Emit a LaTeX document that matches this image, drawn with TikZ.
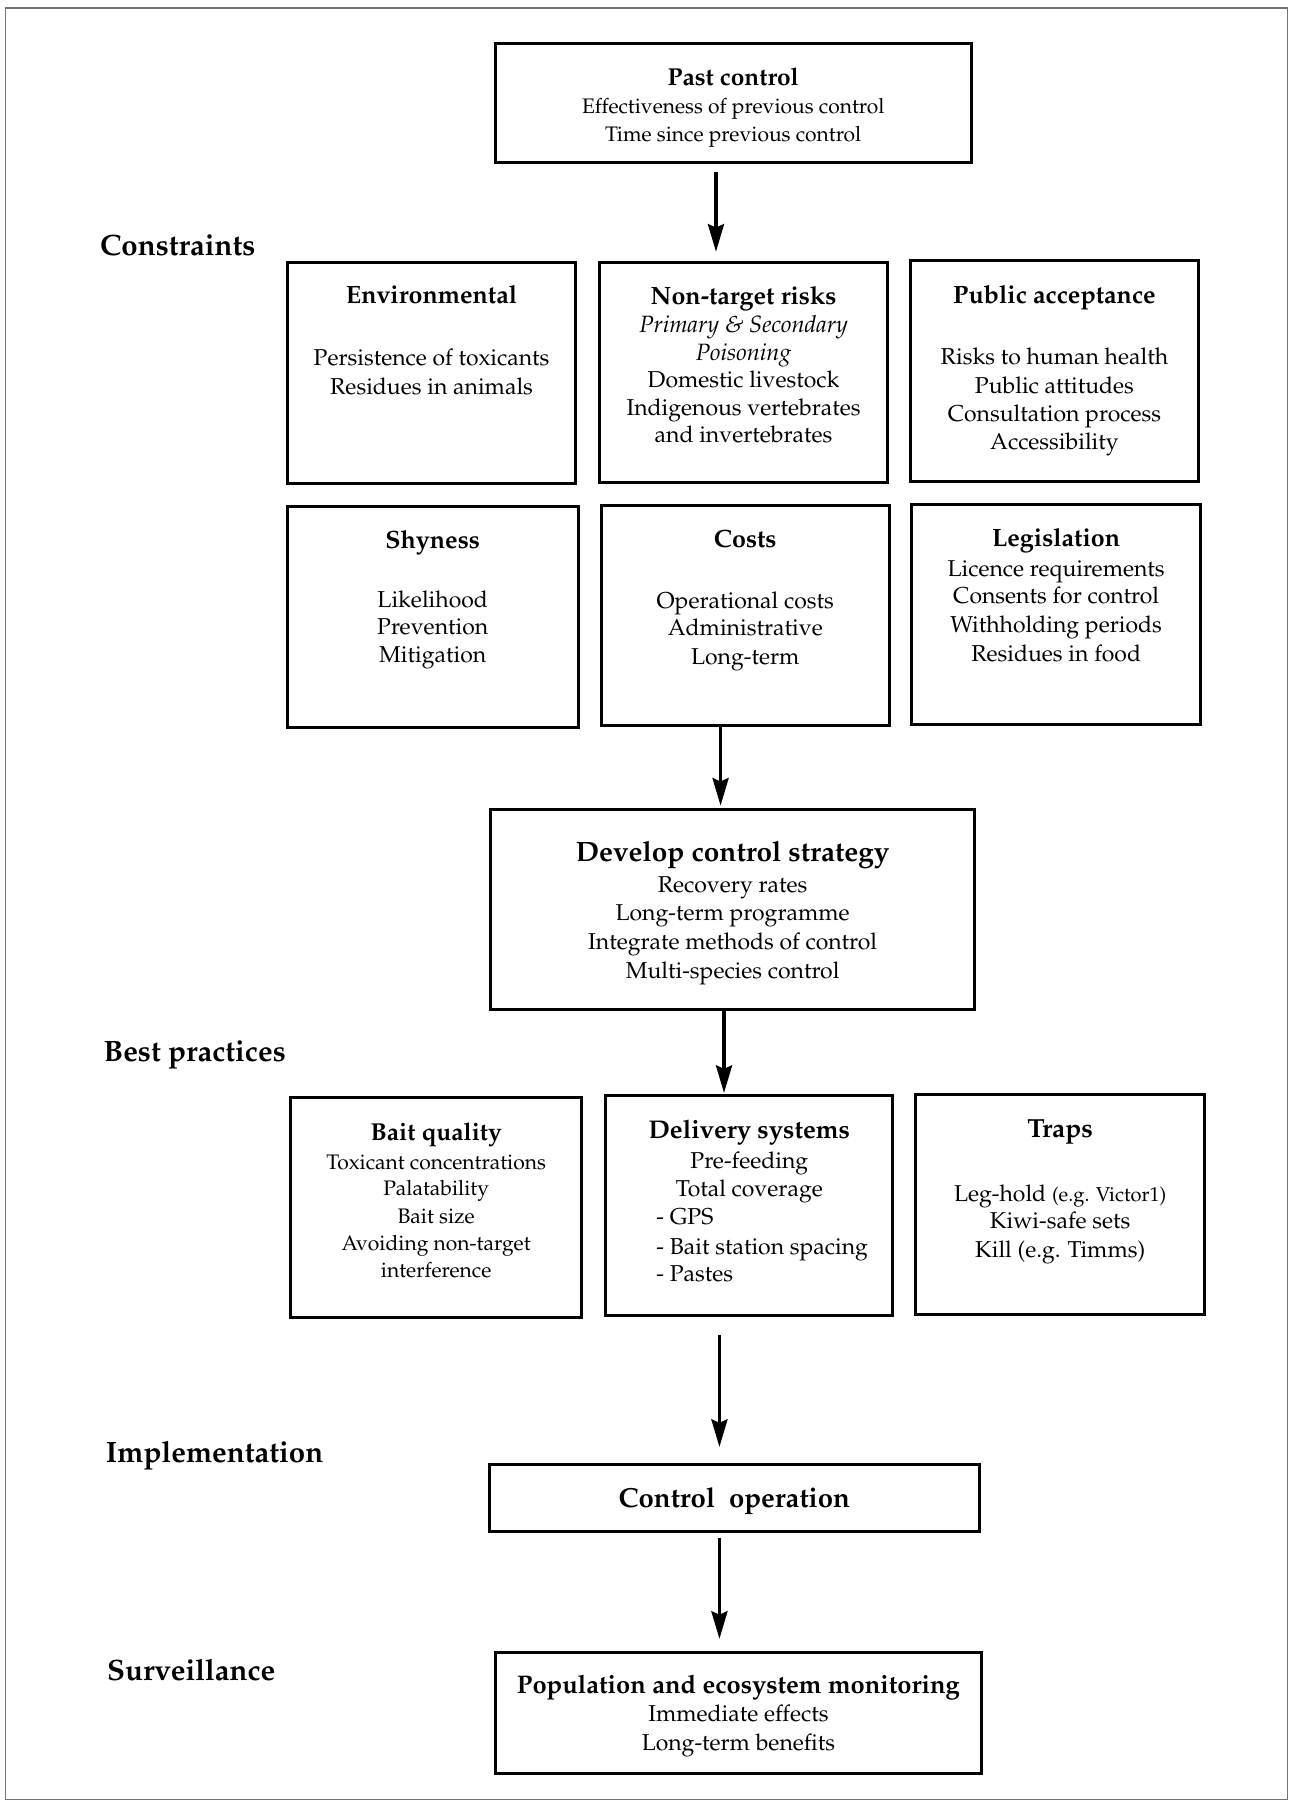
\documentclass[tikz,border=0pt]{standalone}
\usepackage[T1]{fontenc}
\usepackage{mathpazo}
\usetikzlibrary{arrows.meta}
\tikzset{
  box/.style={draw=black, line width=2.6pt, inner sep=0pt, fill=none},
  txt/.style={anchor=mid, inner sep=0pt, font=\fontsize{20}{24}\selectfont},
  txs/.style={anchor=mid, inner sep=0pt, font=\fontsize{18.3}{22}\selectfont},
  ttl/.style={anchor=mid, inner sep=0pt, font=\fontsize{21.8}{26}\selectfont\bfseries},
  tts/.style={anchor=mid, inner sep=0pt, font=\fontsize{21.3}{25}\selectfont\bfseries},
  lbl/.style={anchor=mid west, inner sep=0pt, font=\fontsize{25.6}{30}\selectfont\bfseries},
  arr/.style={line width=2.8pt, -{Stealth[length=24pt,width=14pt,inset=3pt]}},
}
\newcommand\tline[5][txt]{\node[#1] (#2) at (#3,#4) {#5};}
\begin{document}
\begin{tikzpicture}[x=1pt,y=-1pt]
\useasboundingbox (0,0) rectangle (1123,1568);
\node[draw=black!55, line width=1pt, inner sep=0pt, minimum width=1115pt, minimum height=1559pt] (frame) at (562.5,786.5) {};

% boxes
\node[box, minimum width=414pt, minimum height=103pt] (past) at (638,89.5) {};
\node[box, minimum width=251pt, minimum height=193pt] (env) at (375.5,324.5) {};
\node[box, minimum width=250pt, minimum height=192pt] (ntr) at (647,324) {};
\node[box, minimum width=251pt, minimum height=192pt] (pub) at (917.5,323) {};
\node[box, minimum width=253pt, minimum height=192pt] (shy) at (376.5,537) {};
\node[box, minimum width=251pt, minimum height=191pt] (cost) at (648.5,535.5) {};
\node[box, minimum width=252pt, minimum height=191pt] (leg) at (919,534.5) {};
\node[box, minimum width=421pt, minimum height=174pt] (dev) at (637.5,791) {};
\node[box, minimum width=253pt, minimum height=191pt] (bait) at (379.5,1050.5) {};
\node[box, minimum width=250pt, minimum height=192pt] (del) at (652,1049) {};
\node[box, minimum width=251pt, minimum height=192pt] (trap) at (922.5,1048) {};
\node[box, minimum width=426pt, minimum height=59pt] (ctrl) at (639,1303.5) {};
\node[box, minimum width=423pt, minimum height=105pt] (pop) at (642.5,1490.5) {};

% section labels
\tline[lbl]{lcon}{87}{220}{Constraints}
\tline[lbl]{lbest}{90}{921}{Best practices}
\tline[lbl]{limp}{92}{1270}{Implementation}
\tline[lbl]{lsur}{93}{1460}{Surveillance}

% past control
\tline[tts]{t1}{638}{72}{Past control}
\tline[txs]{t2}{638}{96.5}{Effectiveness of previous control}
\tline[txs]{t3}{638}{120.5}{Time since previous control}

% environmental
\tline[ttl]{e1}{375.5}{262}{Environmental}
\tline{e2}{375.5}{316}{Persistence of toxicants}
\tline{e3}{375.5}{341}{Residues in animals}

% non-target
\tline[ttl]{n1}{647}{263}{Non-target risks}
\tline{n2}{647}{287}{\itshape\fontsize{20.5}{24}\selectfont Primary \& Secondary}
\tline{n3}{647}{311}{\itshape\fontsize{20.5}{24}\selectfont Poisoning}
\tline{n4}{647}{335}{Domestic livestock}
\tline{n5}{647}{359}{Indigenous vertebrates}
\tline{n6}{647}{383}{and invertebrates}

% public acceptance
\tline[ttl]{p1}{917.5}{262}{Public acceptance}
\tline{p2}{917.5}{315}{Risks to human health}
\tline{p3}{917.5}{340}{Public attitudes}
\tline{p4}{917.5}{364}{Consultation process}
\tline{p5}{917.5}{389}{Accessibility}

% shyness
\tline[ttl]{s1}{376.5}{475}{Shyness}
\tline{s2}{376.5}{526}{Likelihood}
\tline{s3}{376.5}{550}{Prevention}
\tline{s4}{376.5}{574}{Mitigation}

% costs
\tline[ttl]{c1}{648.5}{474}{Costs}
\tline{c2}{648.5}{527}{Operational costs}
\tline{c3}{648.5}{551}{Administrative}
\tline{c4}{648.5}{576}{Long-term}

% legislation
\tline[ttl]{g1}{919}{473}{Legislation}
\tline{g2}{919}{499}{Licence requirements}
\tline{g3}{919}{523}{Consents for control}
\tline{g4}{919}{548}{Withholding periods}
\tline{g5}{919}{573}{Residues in food}

% develop
\tline[ttl]{d1}{637.5}{747}{\fontsize{24.3}{28}\selectfont Develop control strategy}
\tline{d2}{637.5}{774}{Recovery rates}
\tline{d3}{637.5}{799}{Long-term programme}
\tline{d4}{637.5}{824}{Integrate methods of control}
\tline{d5}{637.5}{849}{Multi-species control}

% bait quality
\tline[tts]{b1}{379.5}{990}{Bait quality}
\tline[txs]{b2}{379.5}{1015}{Toxicant concentrations}
\tline[txs]{b3}{379.5}{1038}{Palatability}
\tline[txs]{b4}{379.5}{1062}{Bait size}
\tline[txs]{b5}{379.5}{1086}{Avoiding non-target}
\tline[txs]{b6}{379.5}{1109}{interference}

% delivery
\tline[ttl]{v1}{652}{988}{\fontsize{22.3}{26}\selectfont Delivery systems}
\tline{v2}{652}{1014}{Pre-feeding}
\tline{v3}{652}{1039}{Total coverage}
\node[txt, anchor=mid west] (v4) at (571,1063) {- GPS};
\node[txt, anchor=mid west] (v5) at (571,1089) {- Bait station spacing};
\node[txt, anchor=mid west] (v6) at (571,1113) {- Pastes};

% traps
\tline[ttl]{r1}{922.5}{987}{\fontsize{22.8}{26}\selectfont Traps}
\tline{r2}{922.5}{1043}{Leg-hold {\fontsize{17.5}{20}\selectfont (e.g. Victor1)}}
\tline{r3}{922.5}{1067}{Kiwi-safe sets}
\tline{r4}{922.5}{1092}{Kill (e.g. Timms)}

% control operation
\tline[ttl]{o1}{639}{1309}{\fontsize{24}{28}\selectfont Control\ \ operation}

% population
\tline[ttl]{m1}{642.5}{1471}{\fontsize{22.2}{26}\selectfont Population and ecosystem monitoring}
\tline{m2}{642.5}{1496}{Immediate effects}
\tline{m3}{642.5}{1521}{Long-term benefits}

% arrows
\coordinate (a1s) at (623,150); \coordinate (a1e) at (623,219);
\coordinate (a2s) at (627,631); \coordinate (a2e) at (627,701);
\coordinate (a3s) at (630,879); \coordinate (a3e) at (630,951);
\coordinate (a4s) at (626,1162); \coordinate (a4e) at (626,1259);
\coordinate (a5s) at (626,1338); \coordinate (a5e) at (626,1426);
\draw[arr] (a1s) -- (a1e);
\draw[arr] (a2s) -- (a2e);
\draw[arr] (a3s) -- (a3e);
\draw[arr] (a4s) -- (a4e);
\draw[arr] (a5s) -- (a5e);
\end{tikzpicture}
\end{document}
